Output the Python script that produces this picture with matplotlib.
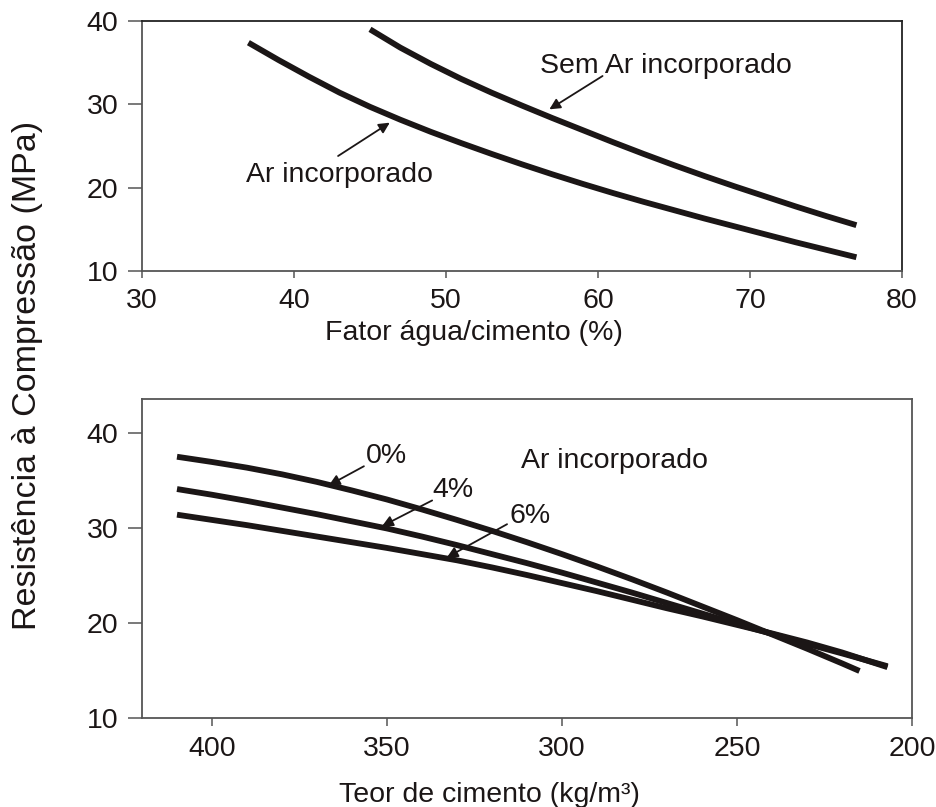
import matplotlib
matplotlib.use("Agg")
import matplotlib.pyplot as plt

plt.rcParams['font.family'] = ['Liberation Sans', 'DejaVu Sans']

# Upper panel: strength vs water/cement ratio
fator_sem_ar = [45, 47, 49, 51, 53, 55, 57, 59, 61, 63, 65, 67, 69, 71, 73, 75, 77]
resist_sem_ar = [39.0, 36.8, 34.85, 33.05, 31.4, 29.85, 28.35, 26.9, 25.45, 24.05,
                 22.7, 21.4, 20.15, 18.95, 17.75, 16.6, 15.5]
fator_com_ar = [37, 39, 41, 43, 45, 47, 49, 51, 53, 55, 57, 59, 61, 63, 65, 67,
                69, 71, 73, 75, 77]
resist_com_ar = [37.4, 35.3, 33.3, 31.4, 29.7, 28.15, 26.7, 25.35, 24.05, 22.8,
                 21.6, 20.45, 19.35, 18.3, 17.3, 16.3, 15.35, 14.4, 13.45, 12.55, 11.65]

# Lower panel: strength vs cement content, by entrained air content
teor_0 = [410, 400, 390, 380, 370, 360, 350, 340, 330, 320, 310, 300, 290, 280,
          270, 260, 250, 240, 230, 220, 215]
resist_0 = [37.5, 36.95, 36.35, 35.65, 34.85, 33.95, 33.0, 31.95, 30.85, 29.7, 28.5,
            27.25, 25.95, 24.6, 23.2, 21.75, 20.3, 18.8, 17.3, 15.75, 14.95]
teor_4 = [410, 400, 390, 380, 370, 360, 350, 340, 330, 320, 310, 300, 290, 280,
          270, 260, 250, 240, 230, 220, 207]
resist_4 = [34.1, 33.5, 32.85, 32.15, 31.45, 30.7, 29.95, 29.1, 28.2, 27.25, 26.3,
            25.3, 24.25, 23.2, 22.1, 21.0, 19.9, 18.85, 17.8, 16.8, 15.45]
teor_6 = [410, 400, 390, 380, 370, 360, 350, 340, 330, 320, 310, 300, 290, 280,
          270, 260, 250, 240, 230, 220, 207]
resist_6 = [31.4, 30.85, 30.3, 29.7, 29.1, 28.5, 27.9, 27.25, 26.6, 25.85, 25.05,
            24.2, 23.35, 22.45, 21.55, 20.7, 19.8, 18.9, 17.95, 16.9, 15.35]

top_xticks = [30, 40, 50, 60, 70, 80]
top_yticks = [10, 20, 30, 40]
bot_xticks = [400, 350, 300, 250, 200]
bot_yticks = [10, 20, 30, 40]

INK = '#1b1616'
AXC = '#555555'
FS = 20.5
W, H = 936, 807

fig = plt.figure(figsize=(W / 100, H / 100), dpi=100)


def box(l, t, r, b):
    return [l / W, 1 - b / H, (r - l) / W, (b - t) / H]


def style(ax, xlen, dark_frame):
    for s in ('left', 'bottom'):
        ax.spines[s].set_color(AXC)
        ax.spines[s].set_linewidth(1.3)
    for s in ('top', 'right'):
        ax.spines[s].set_color('#222222' if dark_frame else AXC)
        ax.spines[s].set_linewidth(1.3)
    ax.tick_params(axis='y', direction='out', length=10, width=1.1, color=AXC,
                   pad=7, labelsize=FS, labelcolor=INK)
    ax.tick_params(axis='x', direction='out', length=xlen, width=1.1, color=AXC,
                   pad=7, labelsize=FS, labelcolor=INK)


arrow = dict(arrowstyle='-|>', lw=1.3, color=INK, mutation_scale=16,
             shrinkA=0, shrinkB=0)

# ---- upper panel ----
ax1 = fig.add_axes(box(142, 21, 902, 271))
ax1.plot(fator_sem_ar, resist_sem_ar, color=INK, lw=4.2, solid_capstyle='butt')
ax1.plot(fator_com_ar, resist_com_ar, color=INK, lw=4.2, solid_capstyle='butt')
ax1.set_xlim(30, 80)
ax1.set_ylim(10, 40)
ax1.set_xticks(top_xticks)
ax1.set_yticks(top_yticks)
style(ax1, 5, True)

ax1.annotate('', xy=(56.8, 29.4), xytext=(60.3, 33.4), arrowprops=arrow)
ax1.text(56.2, 33.75, 'Sem Ar incorporado', fontsize=FS, color=INK,
         ha='left', va='baseline')
ax1.annotate('', xy=(46.3, 27.8), xytext=(42.9, 23.8), arrowprops=arrow)
ax1.text(36.84, 20.67, 'Ar incorporado', fontsize=FS, color=INK,
         ha='left', va='baseline')

fig.text(474 / W, 1 - 340 / H, 'Fator água/cimento (%)', fontsize=FS,
         color=INK, ha='center', va='baseline')

# ---- lower panel ----
ax2 = fig.add_axes(box(142, 399, 912, 718))
for tx, ry in ((teor_0, resist_0), (teor_4, resist_4), (teor_6, resist_6)):
    ax2.plot(tx, ry, color=INK, lw=4.2, solid_capstyle='butt')
ax2.set_xlim(420, 200)
ax2.set_ylim(10, 40 + 34 / 9.5)
ax2.set_xticks(bot_xticks)
ax2.set_yticks(bot_yticks)
style(ax2, 6, False)

ax2.annotate('', xy=(366.6, 34.5), xytext=(356.6, 36.5), arrowprops=arrow)
ax2.text(356.0, 36.84, '0%', fontsize=FS, color=INK, ha='left', va='baseline')
ax2.annotate('', xy=(351.4, 30.2), xytext=(337.1, 32.9), arrowprops=arrow)
ax2.text(337.1, 33.26, '4%', fontsize=FS, color=INK, ha='left', va='baseline')
ax2.annotate('', xy=(332.9, 26.9), xytext=(315.7, 30.4), arrowprops=arrow)
ax2.text(315.1, 30.5, '6%', fontsize=FS, color=INK, ha='left', va='baseline')
ax2.text(311.7, 36.3, 'Ar incorporado', fontsize=FS, color=INK,
         ha='left', va='baseline')

fig.text(489 / W, 1 - 802 / H, 'Teor de cimento (kg/m³)', fontsize=FS,
         color=INK, ha='center', va='baseline')

fig.text(28 / W, 1 - 375 / H, 'Resistência à Compressão (MPa)', fontsize=24.5,
         color=INK, ha='center', va='center', rotation=90)

fig.savefig('out.png', dpi=100, facecolor='white')
